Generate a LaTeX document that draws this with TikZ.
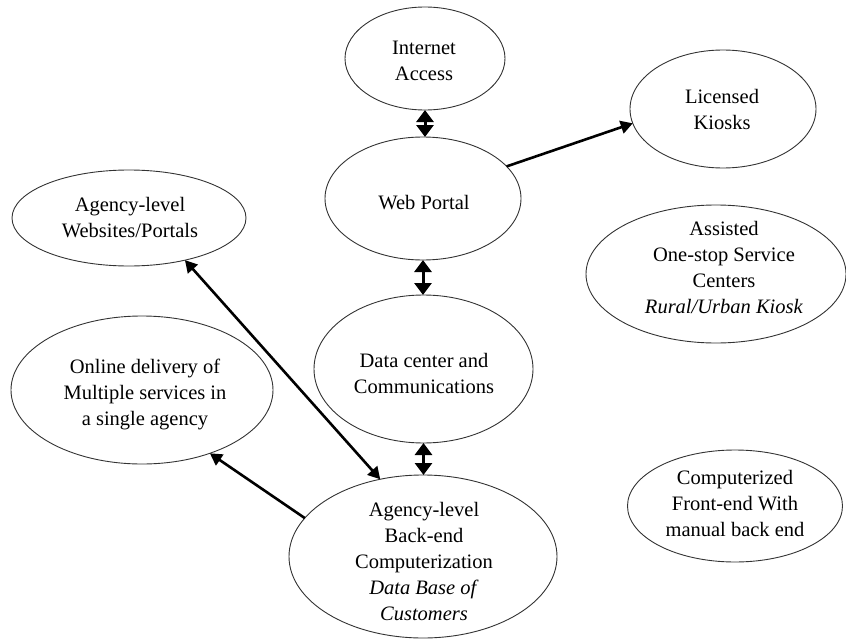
\documentclass[tikz,border=0pt]{standalone}
\usepackage{fontspec}
\setmainfont{Liberation Serif}
\usetikzlibrary{shapes.geometric,arrows.meta}
\begin{document}
\begin{tikzpicture}[x=1pt,y=-1pt,
 ell/.style={draw=black!80,line width=0.9pt,ellipse,inner sep=0pt,outer sep=0pt},
 lbl/.style={align=center,font=\fontsize{20.5}{26}\selectfont,inner sep=0pt},
 arr/.style={line width=2.6pt,-{Triangle[length=12pt,width=13pt]}},
 darr/.style={line width=2.6pt,{Triangle[length=12pt,width=13pt]}-{Triangle[length=12pt,width=13pt]}},
 varr/.style={line width=3pt,{Triangle[length=12pt,width=17pt]}-{Triangle[length=12pt,width=17pt]}}]
\useasboundingbox (0,0) rectangle (846,642);
% ellipses
\node[ell,minimum width=160pt,minimum height=103pt] (ia) at (425,58.5) {};
\node[ell,minimum width=186pt,minimum height=118pt] (lk) at (723,109) {};
\node[ell,minimum width=196pt,minimum height=123pt] (wp) at (423,198.5) {};
\node[ell,minimum width=234pt,minimum height=96pt] (aw) at (129,218) {};
\node[ell,minimum width=260pt,minimum height=138pt] (as) at (716,274) {};
\node[ell,minimum width=219pt,minimum height=148pt] (dc) at (423.5,369) {};
\node[ell,minimum width=262pt,minimum height=148pt] (od) at (142,390) {};
\node[ell,minimum width=215pt,minimum height=112pt] (cf) at (735,506) {};
\node[ell,minimum width=268pt,minimum height=163pt] (be) at (423,556.5) {};
% labels
\node[lbl] (tia) at (424,61) {Internet\\Access};
\node[lbl] (tlk) at (722,109) {Licensed\\Kiosks};
\node[lbl] (twp) at (424,203) {Web Portal};
\node[lbl] (taw) at (130,218) {Agency-level\\Websites/Portals};
\node[lbl] (tas) at (724,268) {Assisted\\One-stop Service\\Centers\\\textit{Rural/Urban Kiosk}};
\node[lbl] (tdc) at (424,373) {Data center and\\Communications};
\node[lbl] (tod) at (145,394) {Online delivery of\\Multiple services in\\a single agency};
\node[lbl] (tcf) at (735,503) {Computerized\\Front-end With\\manual back end};
\node[lbl] (tbe) at (424,562) {Agency-level\\Back-end\\Computerization\\\textit{Data Base of}\\\textit{Customers}};
% connectors
\draw[varr] (ia.south) -- (ia.south |- wp.north);
\draw[varr] (wp.south) -- (wp.south |- dc.north);
\draw[varr] (dc.south) -- (dc.south |- be.north);
\draw[arr] (wp.21) -- (lk.189);
\draw[darr] (aw.-37) -- (be.119.4);
\draw[arr] (be.162.5) -- (od.-43);
\end{tikzpicture}
\end{document}
